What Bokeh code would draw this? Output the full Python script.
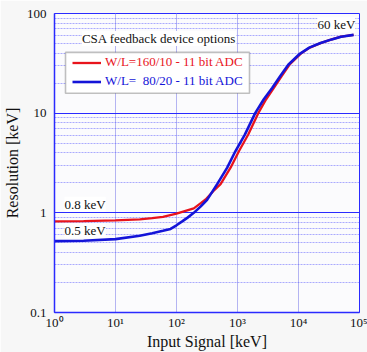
from bokeh.plotting import figure
from bokeh.models import (Legend, LegendItem, Label, BoxAnnotation, FixedTicker,
                          CustomJSTickFormatter)
from bokeh.embed import file_html
from bokeh.resources import INLINE

# ---- data ----
red_x = [1, 3, 10, 25, 40, 60, 100, 150, 192, 250, 300, 400, 528, 770, 1060, 1500,
         2190, 2950, 3950, 5300, 7100, 10800, 15300, 23000, 35000, 50000, 80000]
red_y = [0.82, 0.825, 0.84, 0.86, 0.885, 0.91, 0.98, 1.06, 1.11, 1.25, 1.36, 1.65, 1.94,
         2.84, 4.17, 6.1, 10, 13.8, 17.9, 23.5, 30.6, 39.4, 45.5, 50.5, 55, 58.5, 61]
blue_x = [1, 3, 10, 25, 40, 60, 80, 100, 124, 150, 192, 250, 317, 464, 678, 927, 1320,
          1950, 2700, 3700, 5000, 6800, 10500, 15000, 23000, 35000, 50000, 80000]
blue_y = [0.52, 0.525, 0.545, 0.59, 0.625, 0.66, 0.69, 0.75, 0.82, 0.89, 1.0, 1.16, 1.35,
          1.94, 2.84, 4.17, 6.1, 10, 13.8, 17.9, 23.5, 30.6, 39.4, 45.5, 50.5, 55, 58.5, 61]
red_label = "W/L=160/10 - 11 bit ADC"
blue_label = "W/L=\u00a0 80/20 - 11 bit ADC"
legend_title = "CSA feedback device options"
x_major = [1, 10, 100, 1000, 10000, 100000]
y_major = [0.1, 1, 10, 100]
y_minor = [0.2, 0.3, 0.4, 0.5, 0.6, 0.7, 0.8, 0.9,
           2, 3, 4, 5, 6, 7, 8, 9,
           20, 30, 40, 50, 60, 70, 80, 90]

FONT = "Liberation Serif"
BLUE = "#2a2aff"

p = figure(width=367, height=352, x_axis_type="log", y_axis_type="log",
           x_range=(1, 1e5), y_range=(0.1, 100),
           output_backend="svg", toolbar_location=None,
           min_border_left=54, min_border_right=8, min_border_top=13, min_border_bottom=40)
p.background_fill_color = "#fbfbfd"
p.border_fill_color = "#f7f7f7"
p.outline_line_color = BLUE
p.outline_line_width = 1

# axes
p.xaxis.ticker = FixedTicker(ticks=x_major, minor_ticks=[])
p.yaxis.ticker = FixedTicker(ticks=y_major, minor_ticks=y_minor)
p.xaxis.formatter = CustomJSTickFormatter(code="""
const s = {'0':'\u2070','1':'\u00b9','2':'\u00b2','3':'\u00b3','4':'\u2074','5':'\u2075','-':'\u207b'};
const e = Math.round(Math.log10(tick));
return '10' + String(e).split('').map(c => s[c]).join('');
""")
p.yaxis.formatter = CustomJSTickFormatter(code="""
const e = Math.round(Math.log10(tick));
return e >= 0 ? String(Math.pow(10, e)) : Math.pow(10, e).toFixed(-e);
""")
for ax in (p.xaxis[0], p.yaxis[0]):
    ax.axis_line_color = BLUE
    ax.axis_line_width = 1.5
    ax.major_tick_line_color = None
    ax.minor_tick_line_color = None
    ax.major_tick_out = 0
    ax.major_tick_in = 0
    ax.minor_tick_out = 0
    ax.minor_tick_in = 0
    ax.major_label_text_font = FONT
    ax.major_label_text_font_size = "13px"
    ax.major_label_text_color = "#111111"
    ax.axis_label_text_font = FONT
    ax.axis_label_text_font_size = "16px"
    ax.axis_label_text_font_style = "normal"
    ax.axis_label_text_color = "#111111"
p.xaxis.axis_label = "Input Signal [keV]"
p.yaxis.axis_label = "Resolution [keV]"
p.xaxis.major_label_standoff = 2
p.xaxis.axis_label_standoff = 0
p.yaxis.major_label_standoff = 8
p.yaxis.axis_label_standoff = 3

# grids
p.xgrid.grid_line_color = "#b4b4f2"
p.xgrid.grid_line_width = 1
p.ygrid.grid_line_color = BLUE
p.ygrid.grid_line_width = 1
p.ygrid.minor_grid_line_color = "#5a5aff"
p.ygrid.minor_grid_line_alpha = 0.5
p.ygrid.minor_grid_line_dash = "2 1"

# legend box (data units so it follows the frame)
box = BoxAnnotation(left=1.515, right=1573, top=40.7, bottom=15.85,
                    fill_color="white", fill_alpha=1,
                    line_color="#333333", line_width=1.6, level="underlay")
p.add_layout(box)

r_red = p.line(red_x, red_y, line_color="#e8141c", line_width=2.3)
r_blue = p.line(blue_x, blue_y, line_color="#1414d8", line_width=2.6)

def mk_legend(item_label, rend, color, loc):
    return Legend(items=[LegendItem(label=item_label, renderers=[rend])], location=loc,
                  padding=0, margin=0, spacing=0, glyph_width=29, glyph_height=19,
                  label_height=19, label_standoff=4,
                  label_text_font=FONT, label_text_font_size="13px",
                  label_text_color=color, border_line_color=None,
                  background_fill_alpha=0)

p.add_layout(mk_legend(red_label, r_red, "#e8141c", (18, 240.5)))
p.add_layout(mk_legend(blue_label, r_blue, "#1414d8", (18, 221.5)))

def mk_label(text, x, y, align="left"):
    return Label(x=x, y=y, text=text,
                 text_font=FONT, text_font_size="13px", text_color="#111111",
                 text_align=align, text_baseline="middle",
                 background_fill_color="white", background_fill_alpha=1,
                 level="underlay")

p.add_layout(mk_label(legend_title, 51.6, 56.2, "center"))
p.add_layout(mk_label("0.8 keV", 1.46, 1.22))
p.add_layout(mk_label("0.5 keV", 1.46, 0.66))
p.add_layout(mk_label("60 keV", 20400, 77))

open("out.html", "w").write(file_html(p, INLINE))
